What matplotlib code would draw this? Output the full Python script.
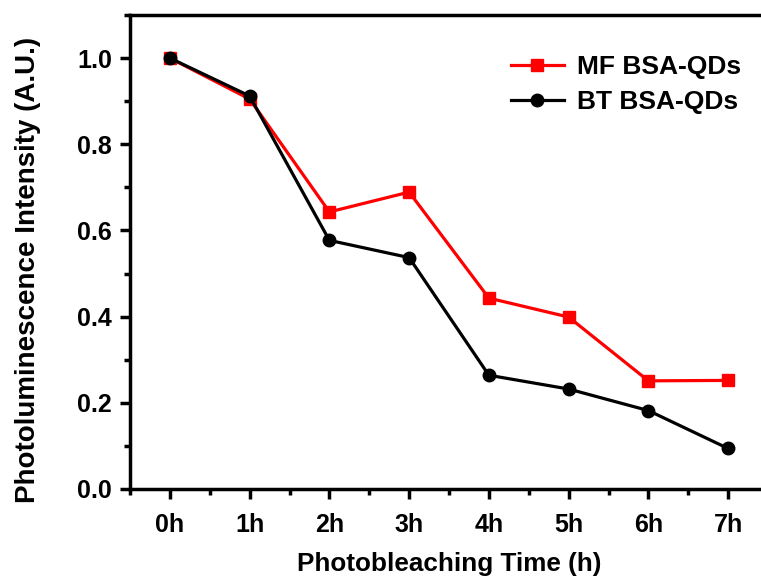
import matplotlib
matplotlib.use('Agg')
import matplotlib.pyplot as plt
from matplotlib.ticker import MultipleLocator, FormatStrFormatter

plt.rcParams['font.family'] = ['Liberation Sans', 'DejaVu Sans']
plt.rcParams['font.weight'] = 'bold'

# photobleaching data
times = ['0h', '1h', '2h', '3h', '4h', '5h', '6h', '7h']
mf_bsa = [1.0, 0.905, 0.643, 0.689, 0.443, 0.399, 0.251, 0.252]
bt_bsa = [1.0, 0.912, 0.577, 0.537, 0.264, 0.232, 0.182, 0.094]

fig = plt.figure(figsize=(7.61, 5.76), dpi=100)
W, H = 761, 576
ax = fig.add_axes([130 / W, (H - 489) / H, (768 - 130) / W, (489 - 15) / H])

x = list(range(len(times)))
ax.plot(x, mf_bsa, color='red', marker='s', markersize=8, linewidth=2.3, label='MF BSA-QDs')
ax.plot(x, bt_bsa, color='black', marker='o', markersize=9, linewidth=2.3, label='BT BSA-QDs')

ax.set_xlim(-0.5, 7.5)
ax.set_ylim(0, 1.1)
ax.set_xticks(x)
ax.set_xticklabels(times)
ax.xaxis.set_minor_locator(MultipleLocator(0.5))
ax.yaxis.set_major_locator(MultipleLocator(0.2))
ax.yaxis.set_minor_locator(MultipleLocator(0.1))
ax.yaxis.set_major_formatter(FormatStrFormatter('%.1f'))

for s in ax.spines.values():
    s.set_linewidth(2.5)
ax.tick_params(which='major', direction='out', length=7, width=2.5, labelsize=18)
ax.tick_params(which='minor', direction='out', length=4.5, width=2.5)
ax.tick_params(axis='x', which='major', pad=10)
ax.tick_params(axis='y', which='major', pad=6)

# the x label sits low, near the bottom edge as in the original
ax.set_xlabel('Photobleaching Time (h)', fontsize=18.8, fontweight='bold', labelpad=11)
ax.set_ylabel('Photoluminescence Intensity (A.U.)', fontsize=20, fontweight='bold', labelpad=26)
ax.yaxis.label.set_y(0.462)

leg = ax.legend(loc='upper left', bbox_to_anchor=(511 / W, 1 - 55 / H), bbox_transform=fig.transFigure,
                frameon=False, prop={'size': 19, 'weight': 'bold'}, borderpad=0, borderaxespad=0,
                handlelength=2.0, handletextpad=0.5, labelspacing=0.42)

fig.savefig('out.png', dpi=100)
